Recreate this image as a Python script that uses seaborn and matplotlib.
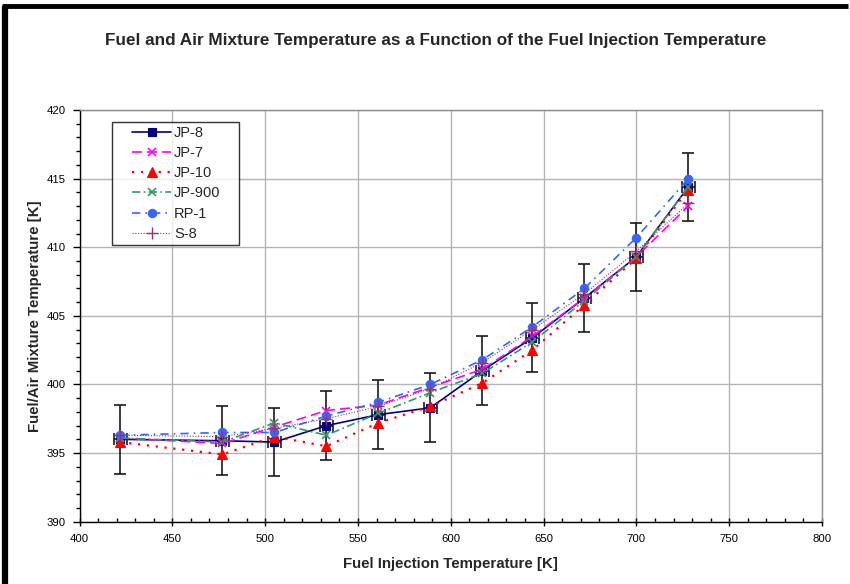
import numpy as np
import pandas as pd
import matplotlib
matplotlib.use("Agg")
import matplotlib.pyplot as plt
import seaborn as sns
from matplotlib.ticker import MultipleLocator
from matplotlib.lines import Line2D
from matplotlib.legend_handler import HandlerLine2D

# ---- data ----
injection_temp = [422, 477, 505, 533, 561, 589, 617, 644, 672, 700, 728]
jp8 = [396.0, 395.9, 395.8, 397.0, 397.8, 398.3, 401.0, 403.4, 406.3, 409.3, 414.4]
jp7 = [396.1, 395.7, 396.9, 398.1, 398.5, 399.8, 401.1, 403.5, 406.3, 409.3, 413.0]
jp10 = [395.8, 394.9, 396.2, 395.5, 397.2, 398.4, 400.1, 402.5, 405.8, 409.2, 414.2]
jp900 = [396.1, 395.8, 397.2, 396.3, 397.9, 399.4, 400.8, 403.1, 406.1, 409.3, 414.4]
rp1 = [396.3, 396.5, 396.5, 397.7, 398.7, 400.0, 401.8, 404.2, 407.0, 410.7, 415.0]
s8 = [396.3, 396.2, 396.8, 397.5, 398.4, 399.7, 401.6, 404.0, 406.6, 409.7, 413.2]
jp8_yerr = 2.5
jp8_xerr = 3.5

series_names = ["JP-8", "JP-7", "JP-10", "JP-900", "RP-1", "S-8"]
series_values = [jp8, jp7, jp10, jp900, rp1, s8]

styles = {
    "JP-8":   dict(color="#000080", ls="-", marker="s", ms=6, lw=1.2, mew=0.8),
    "JP-7":   dict(color="#FF00FF", ls=(0, (6, 3)), marker="x", ms=6, lw=1.2, mew=1.2),
    "JP-10":  dict(color="#FF0000", ls=(0, (1, 3)), marker="^", ms=7, lw=1.6, mew=0.8),
    "JP-900": dict(color="#339966", ls=(0, (5, 2, 1, 2)), marker="x", ms=6, lw=1.2, mew=1.2),
    "RP-1":   dict(color="#3366FF", ls=(0, (5, 3, 1, 3)), marker="o", ms=6, lw=1.2, mew=0.8),
    "S-8":    dict(color="#993366", ls=(0, (1, 1.5)), marker="+", ms=8, lw=0.8, mew=1.0),
}

sns.set_theme(style="white")
plt.rcParams["font.family"] = ["Liberation Sans", "DejaVu Sans"]

fig = plt.figure(figsize=(8.5, 5.84), dpi=100)
ax = fig.add_axes([79.5 / 850, 1 - 521.7 / 584, (822 - 79.5) / 850, (521.7 - 110) / 584])

# error bars on JP-8
ax.errorbar(injection_temp, jp8, yerr=jp8_yerr, xerr=jp8_xerr, fmt="none",
            ecolor="#1a1a1a", elinewidth=1.2, capsize=4, capthick=1.2, zorder=2)

handles = []
for name, vals in zip(series_names, series_values):
    st = styles[name]
    df = pd.DataFrame({"x": injection_temp, "y": vals})
    sns.lineplot(data=df, x="x", y="y", ax=ax, color=st["color"], linestyle=st["ls"],
                 linewidth=st["lw"], marker=st["marker"], markersize=st["ms"],
                 markeredgewidth=st["mew"], markeredgecolor=st["color"],
                 markerfacecolor=st["color"], estimator=None, sort=False, zorder=3)
    handles.append(Line2D([], [], color=st["color"], linestyle=st["ls"], linewidth=st["lw"],
                          marker=st["marker"], markersize=st["ms"], markeredgewidth=st["mew"],
                          markerfacecolor=st["color"], markeredgecolor=st["color"]))

ax.set_xlim(400, 800)
ax.set_ylim(390, 420)
ax.xaxis.set_major_locator(MultipleLocator(50))
ax.xaxis.set_minor_locator(MultipleLocator(10))
ax.yaxis.set_major_locator(MultipleLocator(5))
ax.yaxis.set_minor_locator(MultipleLocator(1))

ax.grid(True, which="major", color="#b4b4b4", linewidth=1.0)
ax.set_axisbelow(True)
for side in ["top", "right"]:
    ax.spines[side].set_color("#8c8c8c")
    ax.spines[side].set_linewidth(1.0)
for side in ["left", "bottom"]:
    ax.spines[side].set_color("black")
    ax.spines[side].set_linewidth(1.0)

ax.tick_params(axis="x", which="major", direction="inout", length=6, width=1, colors="black",
               labelsize=8.2, pad=6, bottom=True)
ax.tick_params(axis="x", which="minor", direction="in", length=3, width=1, colors="black", bottom=True)
ax.tick_params(axis="y", which="major", direction="out", length=5, width=1, colors="black",
               labelsize=8.2, pad=5, left=True)
ax.tick_params(axis="y", which="minor", direction="out", length=3, width=1, colors="black", left=True)

ax.set_xlabel("Fuel Injection Temperature [K]", fontsize=10.8, fontweight="bold", labelpad=9)
ax.set_ylabel("Fuel/Air Mixture Temperature [K]", fontsize=10.8, fontweight="bold", labelpad=3.5)

leg_fs = 10.5
handler = HandlerLine2D(xpad=1.12)
leg = ax.legend(handles, series_names, loc="upper left",
                bbox_to_anchor=((112 - 79.5) / 742.5, (521.7 - 248) / 411.7,
                                (239 - 112) / 742.5, (248 - 122) / 411.7),
                mode="expand", borderaxespad=0.0,
                fontsize=leg_fs, frameon=True, fancybox=False, edgecolor="black",
                handlelength=3.8, borderpad=0.25, labelspacing=0.43, handletextpad=0.2,
                handler_map={h: handler for h in handles})
leg.get_frame().set_linewidth(1.0)

fig.text(436 / 850, 1 - 41 / 584,
         "Fuel and Air Mixture Temperature as a Function of the Fuel Injection Temperature",
         ha="center", va="center", fontsize=12.3, fontweight="bold")

# page border (left and top thick lines)
fig.add_artist(Line2D([4.5 / 850, 4.5 / 850], [0, 1 - 6 / 584], transform=fig.transFigure,
                      color="black", linewidth=4.5, solid_capstyle="butt"))
fig.add_artist(Line2D([2 / 850, 848 / 850], [1 - 6 / 584, 1 - 6 / 584], transform=fig.transFigure,
                      color="black", linewidth=3.5, solid_capstyle="butt"))

fig.savefig("out.png", dpi=100)
